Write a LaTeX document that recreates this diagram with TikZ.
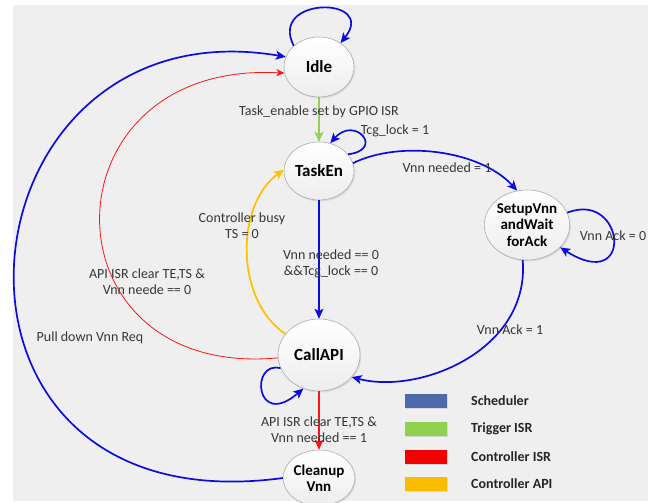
\documentclass[tikz,border=0pt]{standalone}
\usepackage{fontspec}
\setmainfont{Carlito}
\usetikzlibrary{arrows.meta,shapes.geometric,shadows}
\definecolor{panel}{RGB}{239,239,239}
\definecolor{conblue}{RGB}{12,12,225}
\definecolor{conred}{RGB}{255,20,20}
\definecolor{congreen}{RGB}{146,208,80}
\definecolor{conyellow}{RGB}{255,192,0}
\definecolor{labelgray}{RGB}{55,55,55}
\definecolor{legblue}{RGB}{79,106,170}
\definecolor{leggreen}{RGB}{146,208,80}
\definecolor{legred}{RGB}{240,0,0}
\definecolor{legyellow}{RGB}{250,188,0}
\begin{document}
\begin{tikzpicture}[x=1pt,y=-1pt,
  state/.style={ellipse, draw=gray!65, line width=0.6pt, top color=white, bottom color=gray!14,
    inner sep=0pt, align=center, text=black,
    drop shadow={opacity=0.18,shadow xshift=1.2pt,shadow yshift=-1.5pt}},
  bigfont/.style={font=\bfseries\fontsize{17}{20}\selectfont},
  smallfont/.style={font=\bfseries\fontsize{15}{16.5}\selectfont},
  elabel/.style={font=\fontsize{14}{16}\selectfont, text=labelgray, align=center, inner sep=0pt},
  sched/.style={draw=conblue, line width=1.7pt, -{Stealth[length=10pt,width=9pt,inset=2.5pt]}},
  trig/.style={draw=congreen, line width=1.7pt, -{Stealth[length=10pt,width=9pt,inset=2.5pt]}},
  cisr/.style={draw=conred, line width=0.8pt, -{Stealth[length=8pt,width=7pt,inset=2pt]}},
  cisrthick/.style={draw=conred, line width=1.7pt, -{Stealth[length=10pt,width=9pt,inset=2.5pt]}},
  capi/.style={draw=conyellow, line width=1.7pt, -{Stealth[length=10pt,width=9pt,inset=2.5pt]}},
  legbox/.style={minimum width=42pt, minimum height=14pt, inner sep=0pt,
    drop shadow={opacity=0.2,shadow xshift=1pt,shadow yshift=-1pt}},
  legtext/.style={font=\bfseries\fontsize{14}{16}\selectfont, text=black!85, anchor=west, inner sep=0pt}
]
\useasboundingbox (0,0) rectangle (657,503);
\fill[panel] (13,5) rectangle (648,501);

% states
\node[state, bigfont, minimum width=70pt, minimum height=60pt] (idle) at (319,67) {Idle};
\node[state, bigfont, minimum width=70pt, minimum height=58pt] (taskEn) at (319,171) {TaskEn};
\node[state, smallfont, minimum width=80pt, minimum height=70pt] (setup) at (527,225) {SetupVnn\\andWait\\forAck};
\node[state, bigfont, minimum width=82pt, minimum height=72pt] (callAPI) at (319,355) {CallAPI};
\node[state, smallfont, minimum width=64pt, minimum height=56pt] (cleanup) at (319,478) {Cleanup\\Vnn};

% connectors
\draw[sched] (idle.140) .. controls (268,-4) and (378,-4) .. (idle.48);
\draw[trig] (idle) -- (taskEn);
\draw[sched] (taskEn.30) .. controls (385,150) and (355,115) .. (taskEn.68);
\draw[sched] (taskEn.13) .. controls (400,140) and (480,150) .. (setup.106);
\draw[sched] (setup.17) .. controls (625,190) and (635,295) .. (setup.326);
\draw[sched] (setup.263) .. controls (530,350) and (420,395) .. (callAPI.326);
\draw[sched] (taskEn) -- (callAPI);
\draw[capi] (callAPI.148) .. controls (235,300) and (235,205) .. (taskEn.178);
\draw[cisr] (callAPI.184) .. controls (40,380) and (40,60) .. (idle.190);
\draw[sched] (cleanup.180) .. controls (-100,530) and (-50,0) .. (idle.163);
\draw[sched] (callAPI.199) .. controls (250,360) and (255,430) .. (callAPI.245);
\draw[cisrthick] (callAPI) -- (cleanup);

% labels
\node[elabel] (l1) at (319,112) {Task\_enable set by GPIO ISR};
\node[elabel] (l2) at (395,131) {Tcg\_lock = 1};
\node[elabel] (l3) at (447,168) {Vnn needed = 1};
\node[elabel] (l4) at (613,236) {Vnn Ack = 0};
\node[elabel] (l5) at (510,330) {Vnn Ack = 1};
\node[elabel] (l6) at (331,264) {Vnn needed == 0\\\&\&Tcg\_lock == 0};
\node[elabel] (l7) at (242,226) {Controller busy\\TS = 0};
\node[elabel] (l8) at (147,282) {API ISR clear TE,TS \&\\Vnn neede == 0};
\node[elabel] (l9) at (90,338) {Pull down Vnn Req};
\node[elabel] (l10) at (319,430) {API ISR clear TE,TS \&\\Vnn needed == 1};

% legend
\node[legbox, fill=legblue] (b1) at (426,401) {};
\node[legbox, fill=leggreen] (b2) at (426,429) {};
\node[legbox, fill=legred] (b3) at (426,457) {};
\node[legbox, fill=legyellow] (b4) at (426,484) {};
\node[legtext] (t1) at (471,401) {Scheduler};
\node[legtext] (t2) at (471,429) {Trigger ISR};
\node[legtext] (t3) at (471,457) {Controller ISR};
\node[legtext] (t4) at (471,484) {Controller API};
\end{tikzpicture}
\end{document}
